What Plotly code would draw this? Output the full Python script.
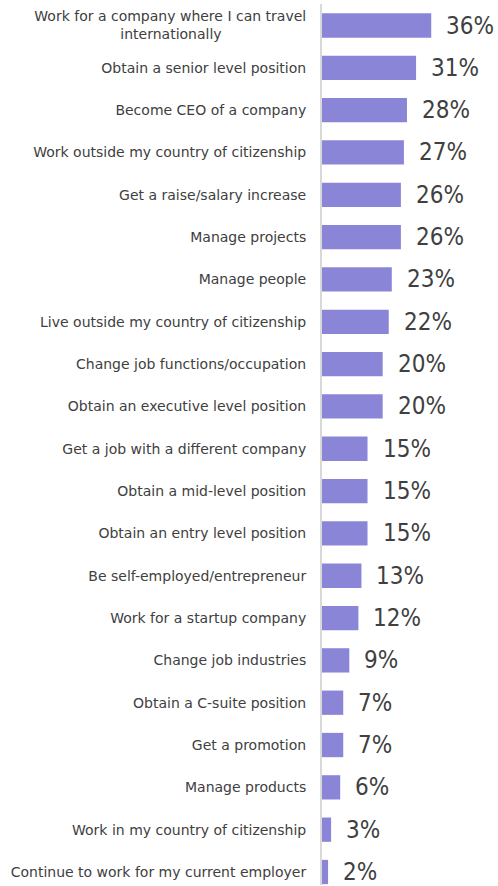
import plotly.graph_objects as go

categories = [
    "Work for a company where I can travel<br>internationally" + "\u00a0" * 19,
    "Obtain a senior level position",
    "Become CEO of a company",
    "Work outside my country of citizenship",
    "Get a raise/salary increase",
    "Manage projects",
    "Manage people",
    "Live outside my country of citizenship",
    "Change job functions/occupation",
    "Obtain an executive level position",
    "Get a job with a different company",
    "Obtain a mid-level position",
    "Obtain an entry level position",
    "Be self-employed/entrepreneur",
    "Work for a startup company",
    "Change job industries",
    "Obtain a C-suite position",
    "Get a promotion",
    "Manage products",
    "Work in my country of citizenship",
    "Continue to work for my current employer",
]
values = [36, 31, 28, 27, 26, 26, 23, 22, 20, 20, 15, 15, 15, 13, 12, 9, 7, 7, 6, 3, 2]
value_labels = [f"{v}%" for v in values]

fig = go.Figure()
fig.add_trace(go.Bar(
    x=values,
    y=categories,
    orientation="h",
    marker=dict(color="#8b85d8", line=dict(width=0)),
    hoverinfo="skip",
))

for c, v, t in zip(categories, values, value_labels):
    fig.add_annotation(
        x=v, y=c, text=t, showarrow=False,
        xanchor="left", yanchor="middle", xshift=13,
        font=dict(family="DejaVu Sans Condensed, DejaVu Sans", size=24, color="#404040"),
    )

fig.update_layout(
    width=498, height=886,
    margin=dict(l=322, r=0, t=4, b=1, autoexpand=False),
    paper_bgcolor="white", plot_bgcolor="white",
    bargap=0.426,
    showlegend=False,
    font=dict(family="DejaVu Sans", size=14, color="#404040"),
)
fig.update_xaxes(range=[0, 58], visible=False, showgrid=False, zeroline=False, automargin=False)
fig.update_yaxes(
    type="category",
    range=[20.307, -0.508],
    automargin=False,
    showline=True, linecolor="#d9d9d9", linewidth=2,
    showgrid=False, ticks="", ticklabelstandoff=11,
    tickfont=dict(family="DejaVu Sans", size=14, color="#404040"),
)

fig.write_html(
    "out.html",
    config={"displayModeBar": False},
    post_script="document.body.style.margin='0';document.body.style.overflow='hidden';",
)
